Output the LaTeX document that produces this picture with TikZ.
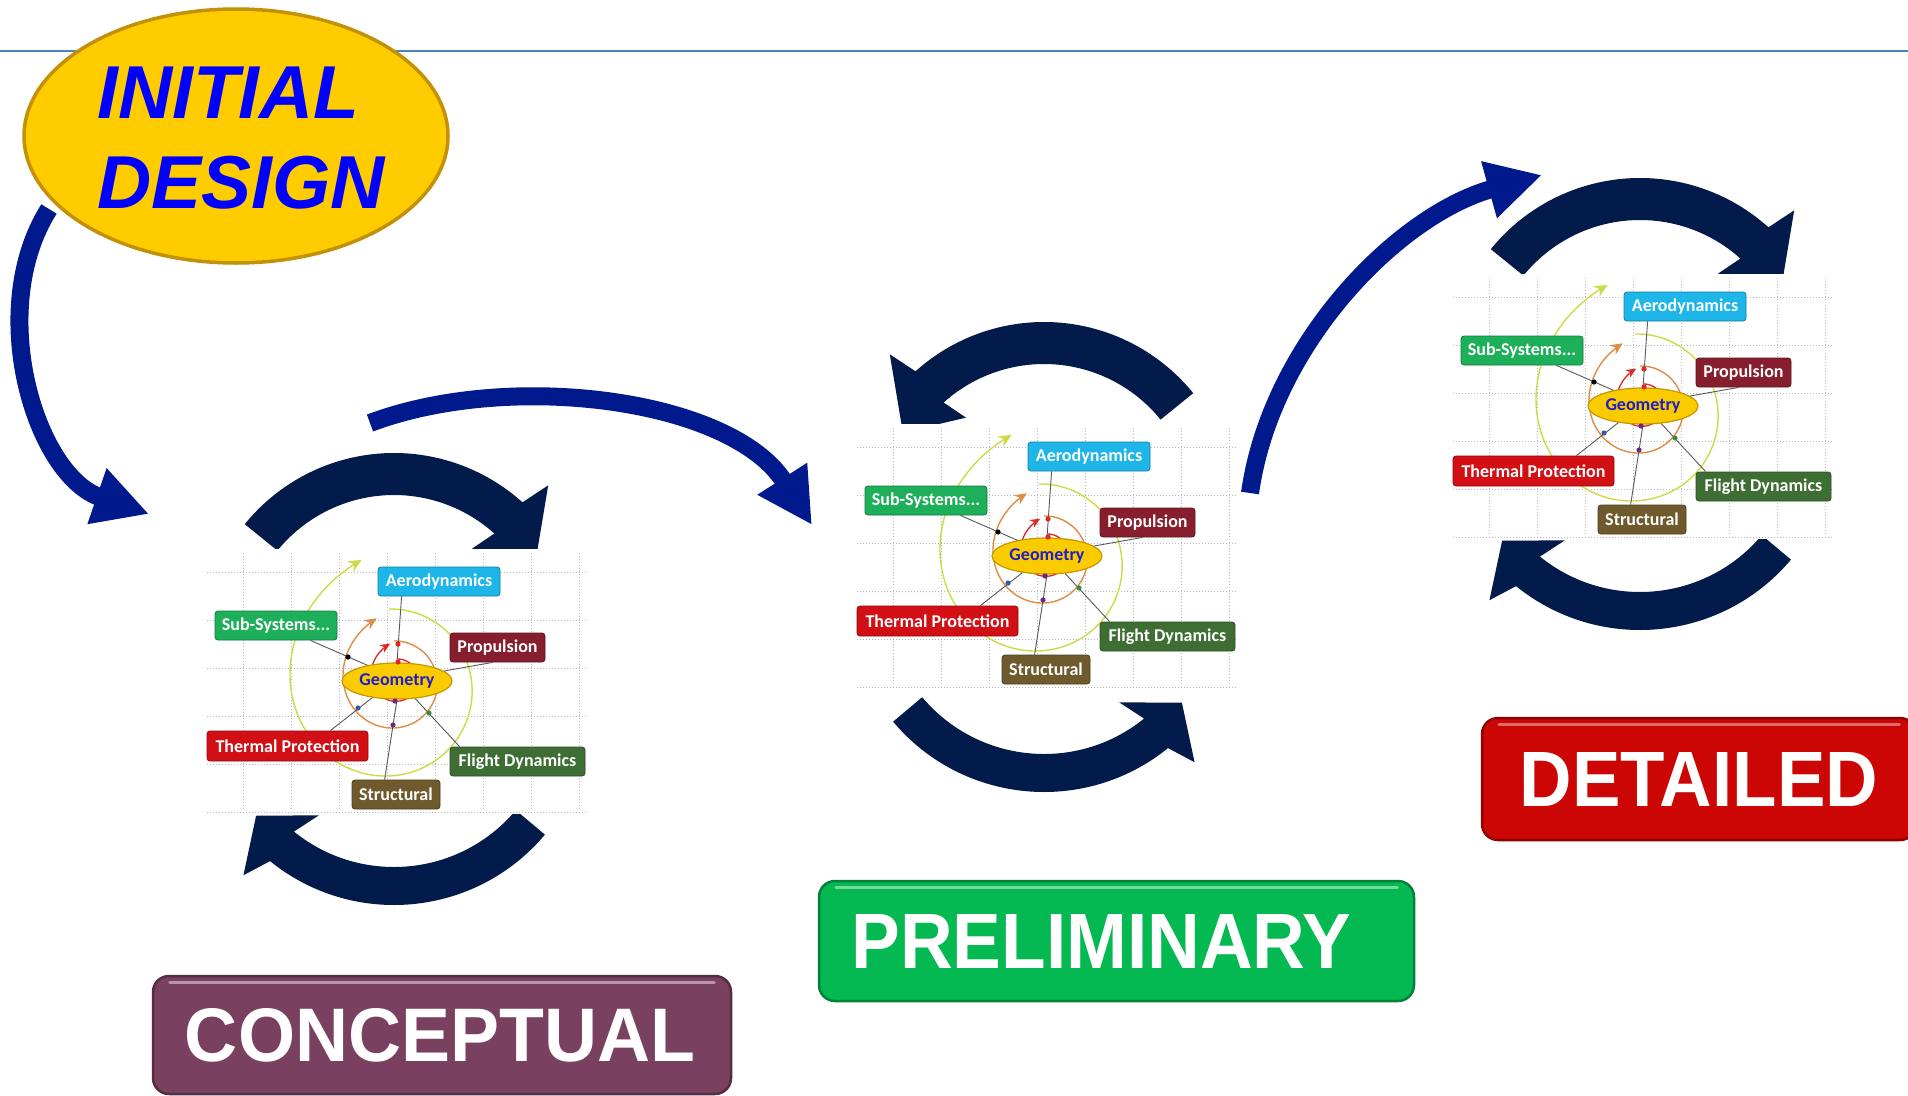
\documentclass[tikz,border=0pt]{standalone}
\usepackage{fontspec}
\usepackage{graphicx}
\setmainfont{Liberation Sans}
\newfontfamily\boxfont{Carlito}
\usetikzlibrary{arrows.meta,shapes.geometric}

\definecolor{navy}{RGB}{2,27,74}
\definecolor{flowblue}{RGB}{0,25,140}
\definecolor{rulerblue}{RGB}{79,129,189}
\definecolor{goldfill}{RGB}{255,204,0}
\definecolor{goldedge}{RGB}{195,145,5}
\definecolor{titleblue}{RGB}{0,0,255}
\definecolor{aerocol}{RGB}{30,182,232}
\definecolor{subcol}{RGB}{30,175,90}
\definecolor{propcol}{RGB}{135,30,45}
\definecolor{thermcol}{RGB}{210,15,20}
\definecolor{flightcol}{RGB}{62,110,52}
\definecolor{structcol}{RGB}{110,90,45}
\definecolor{geofill}{RGB}{250,204,0}
\definecolor{geoedge}{RGB}{200,150,0}
\definecolor{geotext}{RGB}{30,30,200}
\definecolor{ringyellow}{RGB}{205,220,70}
\definecolor{ringorange}{RGB}{222,140,70}
\definecolor{ringred}{RGB}{222,40,40}
\definecolor{knotblue}{RGB}{50,90,170}
\definecolor{knotpurple}{RGB}{110,40,130}
\definecolor{knotgreen}{RGB}{60,140,60}
\definecolor{concol}{RGB}{122,64,96}
\definecolor{precol}{RGB}{5,185,82}
\definecolor{detcol}{RGB}{204,5,5}

\tikzset{
  topic/.style={rectangle, rounded corners=3pt, fill=#1, draw=#1!70!black,
    line width=0.8pt, text=white, inner sep=0pt, minimum height=29pt,
    font=\boxfont\bfseries\fontsize{18}{18}\selectfont},
  geonode/.style={ellipse, minimum width=110pt, minimum height=36pt, inner sep=0pt,
    fill=geofill, draw=geoedge, line width=1.2pt, text=geotext,
    font=\boxfont\bfseries\fontsize{18}{18}\selectfont},
  link/.style={draw=black!65, line width=0.9pt},
  gridline/.style={draw=black!28, line width=0.6pt, dash pattern=on 0.8pt off 2.2pt},
  flow/.style={draw=flowblue, line width=18pt, -{Triangle[width=55pt,length=55pt]}},
  button/.style={rectangle, rounded corners=16pt, fill=#1, draw=#1!70!black,
    line width=2.5pt, text=white, inner sep=0pt, font=\bfseries},
  shine/.style={line width=3pt, line cap=round, draw=#1},
  title/.style={anchor=base west, inner sep=0pt, text=titleblue,
    font=\fontsize{75}{75}\selectfont\bfseries\itshape},
}

% pair of circular block arrows around a design map
% #1,#2 map centre, #3 mirror factor, #4 / #5 vertical offsets of the two arcs
\newcommand{\cyclepair}[5]{%
  \begin{scope}[shift={(#1-3,#2+#4)}, xscale=#3]
    \fill[navy] (-141:192) arc[start angle=-141, end angle=-48, radius=192]
      -- (-46:222) -- (-30:163) -- (-51:124) -- (-48:150)
      arc[start angle=-48, end angle=-141, radius=150] -- cycle;
  \end{scope}
  \begin{scope}[shift={(#1-3,#2+#5)}, xscale=#3]
    \fill[navy] (40:197) arc[start angle=40, end angle=129, radius=197]
      -- (132:225) -- (142:175) -- (125:131) -- (129:159)
      arc[start angle=129, end angle=40, radius=159] -- cycle;
  \end{scope}}

% design map: Geometry hub with its six discipline topics
% #1 name suffix, #2,#3 centre of the hub
\newcommand{\designmap}[3]{%
  \begin{scope}[shift={(#2,#3)}]
    \fill[white] (-193,-132) rectangle (193,133);
    \foreach \gx in {-154,-106,-58,-10,38,86,134,182}
      \draw[gridline] (\gx,-128) -- (\gx,130);
    \foreach \gy in {-109,-61,-13,35,83,131}
      \draw[gridline] (-190,\gy) -- (190,\gy);
    \begin{scope}[shift={(-8,8)}]
      \draw[ringyellow, line width=1.4pt, -{Stealth[length=13pt,width=12pt]}]
        plot[domain=-90:258, samples=90, smooth]
        (\x:{80+12*((\x+90)/348)+40*((\x+90)/348)^6});
    \end{scope}
    \begin{scope}[shift={(-3,2)}]
      \draw[ringorange, line width=1.4pt, -{Stealth[length=12pt,width=11pt]}]
        plot[domain=-90:255, samples=80, smooth]
        (\x:{42+5*((\x+90)/345)+20*((\x+90)/345)^6});
    \end{scope}
    \begin{scope}[shift={(0,-2)}]
      \draw[ringred, line width=1.3pt, -{Stealth[length=10pt,width=9pt]}]
        plot[domain=-90:259, samples=70, smooth]
        (\x:{20+4*((\x+90)/349)+12*((\x+90)/349)^6});
    \end{scope}
    \node[geonode] (geo#1) at (0,0) {Geometry};
    \node[topic=aerocol, minimum width=122pt] (aero#1) at (42,-99.5) {Aerodynamics};
    \node[topic=subcol, minimum width=122pt] (sub#1) at (-121,-55.5) {Sub-Systems...};
    \node[topic=propcol, minimum width=95pt] (prop#1) at (100.5,-33.5) {Propulsion};
    \node[topic=thermcol, minimum width=161pt, minimum height=30pt] (therm#1) at (-109.5,65) {Thermal Protection};
    \node[topic=flightcol, minimum width=135pt] (flight#1) at (120.5,80.5) {Flight Dynamics};
    \node[topic=structcol, minimum width=88pt] (struct#1) at (-1,113.5) {Structural};
    \draw[link] (geo#1.north) -- ([xshift=24pt]aero#1.south west);
    \draw[link] (geo#1.152) -- ([xshift=-27pt]sub#1.south east);
    \draw[link] (geo#1.12) -- ([xshift=43pt]prop#1.south west);
    \draw[link] (geo#1.214) -- ([xshift=-38pt]therm#1.north east);
    \draw[link] (geo#1.south) -- ([xshift=33pt]struct#1.north west);
    \draw[link] (geo#1.316) -- ([xshift=10pt]flight#1.north west);
    \fill[ringred] (1,-37) circle (2.6) (1,-19) circle (2.6);
    \fill[black] (-49,-24) circle (2.6);
    \fill[knotblue] (-39,27) circle (2.6);
    \fill[knotpurple] (-2,20) circle (2.6) (-4,44) circle (2.6);
    \fill[knotgreen] (32,32) circle (2.6);
  \end{scope}}

\begin{document}
\begin{tikzpicture}[x=1pt, y=-1pt]
  \clip (0,0) rectangle (1908,1095);
  \fill[white] (0,0) rectangle (1908,1095);

  % header rule
  \draw[rulerblue, line width=1.6pt] (0,51) -- (1908,51);

  % iteration loops around each stage
  \cyclepair{397}{681}{1}{-36}{27}
  \cyclepair{1047}{556}{-1}{-42}{39}
  \cyclepair{1643}{406}{1}{-36}{27}

  % design maps of the three stages
  \designmap{a}{397}{681}
  \designmap{b}{1047}{556}
  \designmap{c}{1643}{406}

  % progression between stages
  \coordinate (f1s) at (49,209);   \coordinate (f1e) at (149,514);
  \coordinate (f2s) at (370,423);  \coordinate (f2e) at (812,525);
  \coordinate (f3s) at (1250,493); \coordinate (f3e) at (1542,175);
  \draw[flow] (f1s) .. controls (-15,310) and (35.5,475) .. (f1e);
  \draw[flow] (f2s) .. controls (511,370) and (731,399) .. (f2e);
  \draw[flow] (f3s) .. controls (1271,344) and (1398,215) .. (f3e);

  % starting point
  \node[ellipse, minimum width=424pt, minimum height=254pt, inner sep=0pt,
        fill=goldfill, draw=goldedge, line width=3.5pt] (init) at (236,136) {};
  \node[title] (initA) at (97,118) {INITIAL};
  \node[title] (initB) at (97,208) {DESIGN};

  % stage labels
  \node[button=concol, minimum width=578pt, minimum height=118pt] (concept) at (442,1035)
    {\resizebox{510pt}{53pt}{CONCEPTUAL}\hspace*{4pt}};
  \node[button=precol, minimum width=595pt, minimum height=120pt] (prelim) at (1116.5,941)
    {\resizebox{500pt}{54pt}{PRELIMINARY}\hspace*{30pt}};
  \node[button=detcol, minimum width=434pt, minimum height=122pt] (detail) at (1699,779)
    {\resizebox{358pt}{54pt}{DETAILED}};
  \draw[shine=concol!55!white] ([shift={(18,8)}]concept.north west) -- ([shift={(-18,8)}]concept.north east);
  \draw[shine=precol!55!white] ([shift={(18,8)}]prelim.north west) -- ([shift={(-18,8)}]prelim.north east);
  \draw[shine=detcol!60!white] ([shift={(18,8)}]detail.north west) -- ([shift={(-18,8)}]detail.north east);
\end{tikzpicture}
\end{document}
